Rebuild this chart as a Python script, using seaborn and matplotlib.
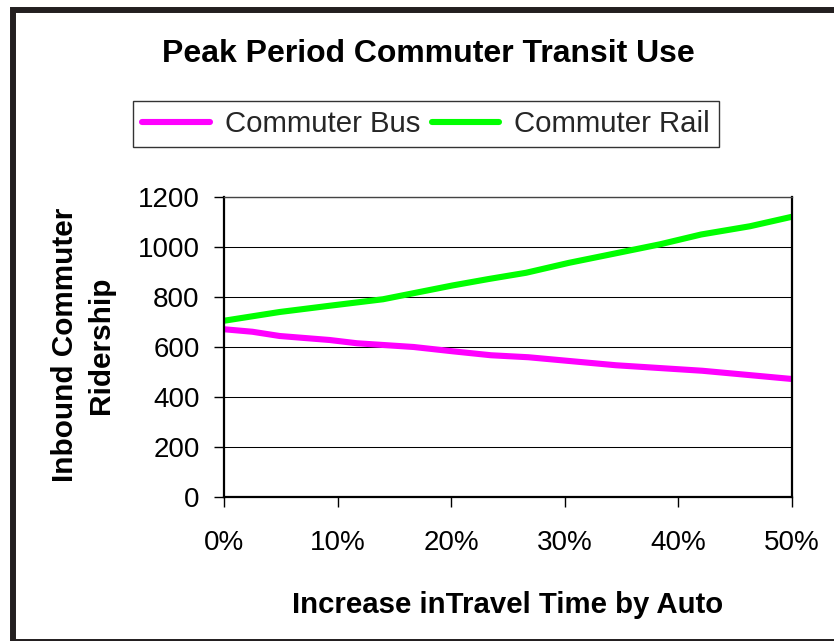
import matplotlib
matplotlib.use("Agg")
import matplotlib.pyplot as plt
import matplotlib.patches as mpatches
import seaborn as sns
import pandas as pd
from matplotlib.ticker import FuncFormatter

# ---- data ----
bus_x = [0, 2.5, 4.9, 9.3, 11.7, 16.7, 20.1, 23.5, 26.8, 34.5, 42.1, 50]
bus_y = [671, 661, 644, 628, 615, 600, 583, 567, 559, 527, 505, 472]
rail_x = [0, 4.9, 9.3, 14.0, 20.1, 23.3, 26.6, 30.4, 34.3, 38.4, 42.0, 46.3, 50]
rail_y = [705, 740, 765, 791, 846, 872, 897, 937, 973, 1011, 1050, 1083, 1121]
series_names = ["Commuter Bus", "Commuter Rail"]
series_colors = ["#FF00FF", "#00FF00"]
x_ticks = [0, 10, 20, 30, 40, 50]
y_ticks = [0, 200, 400, 600, 800, 1000, 1200]
title = "Peak Period Commuter Transit Use"
xlabel = "Increase inTravel Time by Auto"
ylabel = "Inbound Commuter\nRidership"

df = pd.concat([
    pd.DataFrame({"x": bus_x, "y": bus_y, "series": series_names[0]}),
    pd.DataFrame({"x": rail_x, "y": rail_y, "series": series_names[1]}),
], ignore_index=True)

sns.set_style("white")
plt.rcParams["font.family"] = ["Liberation Sans", "DejaVu Sans"]

W, H = 834, 641
fig = plt.figure(figsize=(W / 100, H / 100), dpi=100)

def fx(px):
    return px / W

def fy(py):
    return 1 - py / H

# outer frame (partly cropped on right and bottom)
frame = mpatches.Rectangle((fx(13), fy(642)), fx(850) - fx(13), fy(10) - fy(642),
                           transform=fig.transFigure, fill=False,
                           edgecolor="#231f20", linewidth=4.3, zorder=0)
fig.patches.append(frame)

ax = fig.add_axes([fx(224), fy(497), fx(792) - fx(224), fy(197) - fy(497)])

sns.lineplot(data=df, x="x", y="y", hue="series", palette=series_colors,
             hue_order=series_names, linewidth=4.4, ax=ax, legend=True,
             sort=False)

ax.set_xlim(0, 50)
ax.set_ylim(0, 1200)
ax.set_xticks(x_ticks)
ax.set_yticks(y_ticks)
ax.xaxis.set_major_formatter(FuncFormatter(lambda v, p: f"{int(round(v))}%"))
ax.grid(axis="y", color="black", linewidth=0.75)
ax.grid(axis="x", visible=False)
ax.set_axisbelow(True)
for s in ax.spines.values():
    s.set_visible(True)
    s.set_color("black")
    s.set_linewidth(1.6)
ax.spines["top"].set_color("#444444")
ax.spines["top"].set_linewidth(1.0)

ax.tick_params(axis="both", which="major", direction="out", length=7.5,
               width=1.0, color="black", labelsize=20, labelcolor="black",
               left=True, bottom=True)
ax.tick_params(axis="x", pad=16)
ax.tick_params(axis="y", pad=10)

ax.set_xlabel(xlabel, fontsize=21.2, fontweight="bold", color="black")
ax.xaxis.label.set_verticalalignment("baseline")
ax.xaxis.set_label_coords(0.5, -(613 - 497) / 300)

ax.set_ylabel(ylabel, fontsize=21.4, fontweight="bold", color="black",
              linespacing=1.35)
ax.yaxis.label.set_verticalalignment("center")
ax.yaxis.set_label_coords((83 - 224) / 568, (497 - 345) / 300)

fig.text(fx(428), fy(62), title, ha="center", va="baseline",
         fontsize=23, fontweight="bold", color="black")

handles, labels = ax.get_legend_handles_labels()
ax.legend_.remove()
for h in handles:
    h.set_linewidth(4.4)
leg = fig.legend(handles, labels, loc="center", ncol=2,
                 bbox_to_anchor=(fx(426), fy(124)),
                 bbox_transform=fig.transFigure,
                 fontsize=21.2, frameon=True, fancybox=False,
                 edgecolor="#333333", framealpha=1,
                 handlelength=2.3, handletextpad=0.5, columnspacing=0.4,
                 borderpad=0.3, borderaxespad=0)
leg.get_frame().set_linewidth(1.0)

fig.savefig("out.png", dpi=100)
